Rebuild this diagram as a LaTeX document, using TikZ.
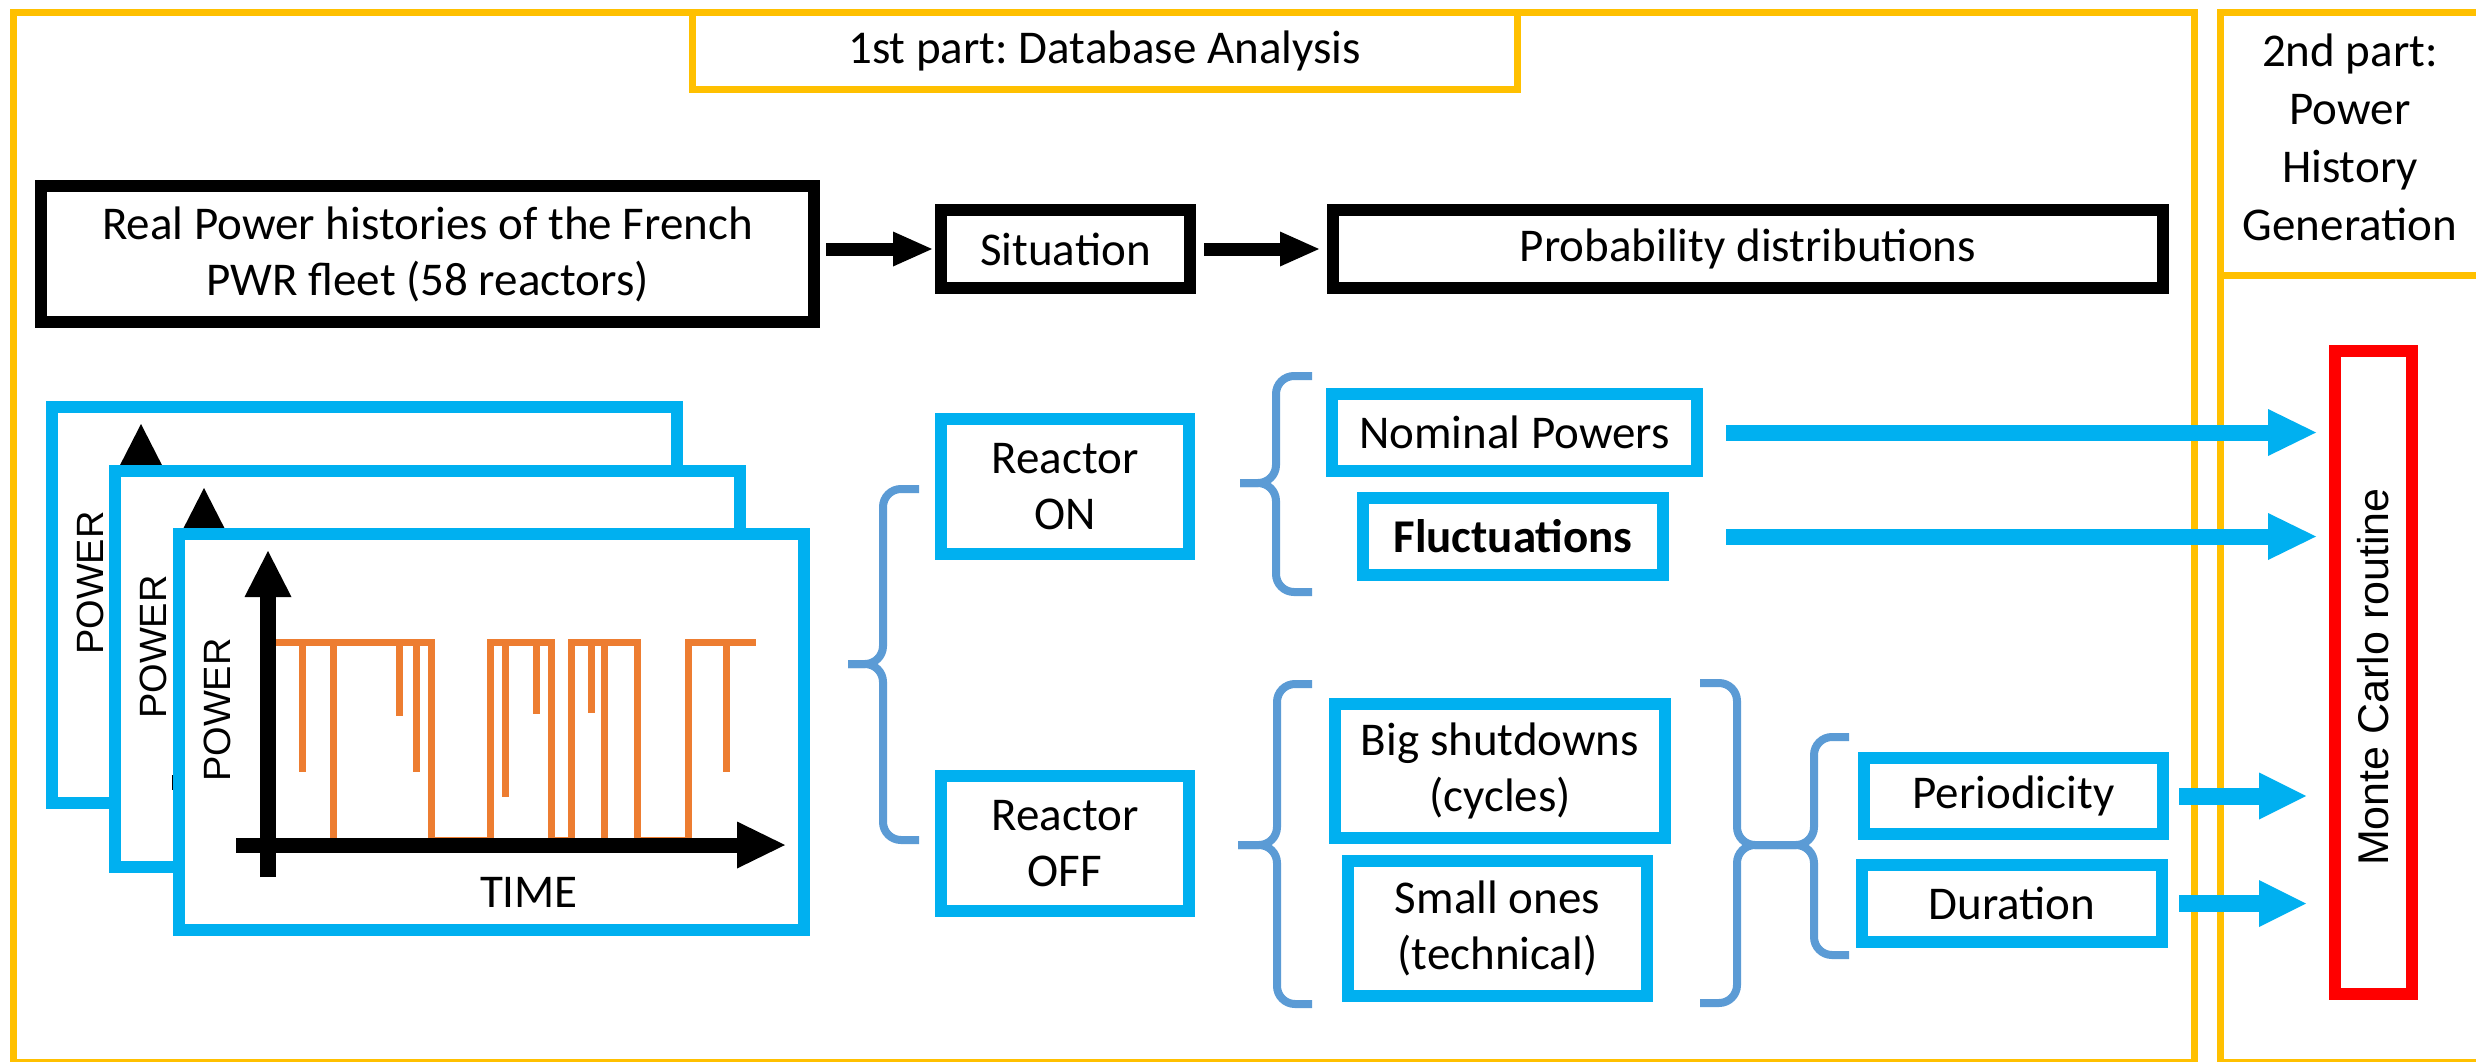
\documentclass[tikz,border=0pt]{standalone}
\usepackage{fontspec}
\setmainfont{Carlito}
\newfontfamily\arialf{Liberation Sans}
\frenchspacing
\usetikzlibrary{arrows.meta,calc}
\definecolor{orng}{HTML}{FFC000}
\definecolor{cyanb}{HTML}{00B0F0}
\definecolor{braceb}{HTML}{5B9BD5}
\definecolor{sigc}{HTML}{ED7D31}
\definecolor{redb}{HTML}{FF0000}
\tikzset{
  txt/.style={font=\fontsize{47}{56}\selectfont, align=center},
  blackbox/.style={draw=black, line width=12pt, fill=white, inner sep=0pt, outer sep=0pt, txt},
  bluebox/.style={draw=cyanb, line width=12pt, fill=white, inner sep=0pt, outer sep=0pt, txt},
  orangebox/.style={draw=orng, line width=7pt, inner sep=0pt, outer sep=0pt},
  bracep/.style={draw=braceb, line width=8pt, rounded corners=18pt},
  blkarrow/.style={draw=black, line width=13pt, -{Triangle[width=35pt,length=39pt,line width=0pt]}},
  cyanarrow/.style={draw=cyanb, line width=16pt, -{Triangle[width=47pt,length=48pt,line width=0pt]}},
  cyanarrowb/.style={draw=cyanb, line width=17pt, -{Triangle[width=47pt,length=47pt,line width=0pt]}},
  sigline/.style={draw=sigc, line width=7pt},
}
\newcommand\powerplot[3]{%
  \begin{scope}[shift={(#1,#2)}]
    \node[draw=cyanb, line width=12pt, fill=white, minimum width=625pt, minimum height=396pt, inner sep=0pt, outer sep=0pt] (#3) at (318.5,204) {};
    \draw[sigline] (103,114) -- (258,114) -- (258,312) -- (317,312) -- (317,114) -- (378,114) -- (378,312) -- (398,312) -- (398,114) -- (464,114) -- (464,312) -- (515,312) -- (515,114) -- (583,114);
    \draw[sigline] (129,114) -- (129,244) (226,114) -- (226,188) (243,114) -- (243,244)
      (332,114) -- (332,269) (363,114) -- (363,186) (418,114) -- (418,185) (553,114) -- (553,244)
      (160,114) -- (160,312) (431,114) -- (431,312);
    \draw[line width=16pt, -{Triangle[width=47pt,length=46pt,line width=0pt]}] (95,349) -- (95,23);
    \draw[line width=15pt, -{Triangle[width=47pt,length=48pt,line width=0pt]}] (63,317) -- (612,317);
    \node[font=\arialf\fontsize{38}{44}\selectfont, rotate=90] (#3p) at (44,182) {POWER};
    \node[txt] (#3t) at (356,364) {TIME};
  \end{scope}}
\begin{document}
\begin{tikzpicture}[x=1pt,y=-1pt]
\useasboundingbox (0,0) rectangle (2476,1061);
\clip (0,0) rectangle (2476,1061);
\fill[white] (0,0) rectangle (2476,1061);

% orange frames
\node[orangebox, minimum width=2181pt, minimum height=1050pt] (part1) at (1103.5,537) {};
\node[orangebox, txt, minimum width=825pt, minimum height=77pt] (title) at (1104.5,50.5) {1st part: Database Analysis};
\node[orangebox, minimum width=260pt, minimum height=1050pt] (part2) at (2350,537) {};
\node[orangebox, minimum width=260pt, minimum height=263.5pt] (p2head) at (2350,143.75) {};
\node[align=center, font=\fontsize{47}{58}\selectfont] (p2text) at (2350,137) {2nd part:\\Power\\History\\Generation};

% top row
\node[blackbox, minimum width=773pt, minimum height=136pt] (real) at (427.5,254) {Real Power histories of the French\\PWR fleet (58 reactors)};
\node[blackbox, minimum width=249pt, minimum height=78pt] (sit) at (1065.5,249) {Situation};
\node[blackbox, minimum width=830pt, minimum height=78pt] (prob) at (1748,249) {Probability distributions};
\draw[blkarrow, shorten <=12pt, shorten >=9pt] (real.east |- sit.west) -- (sit.west);
\draw[blkarrow, shorten <=14pt, shorten >=14pt] (sit.east) -- (prob.west);

% stacked plots
\powerplot{46}{401}{fa}
\powerplot{109}{465}{fb}
\powerplot{173}{528}{fc}

% middle boxes
\node[bluebox, minimum width=248pt, minimum height=135pt] (on) at (1065,486.5) {Reactor\\ON};
\node[bluebox, minimum width=248pt, minimum height=135pt] (off) at (1065,843.5) {Reactor\\OFF};
\node[bluebox, minimum width=365pt, minimum height=77pt] (nom) at (1514.5,432.5) {Nominal Powers};
\node[bluebox, minimum width=300pt, minimum height=77pt] (fluc) at (1513,536.5) {\bfseries Fluctuations};
\node[bluebox, minimum width=330pt, minimum height=134pt] (big) at (1500,771) {Big shutdowns\\(cycles)};
\node[bluebox, minimum width=299pt, minimum height=135pt] (small) at (1497.5,928.5) {Small ones\\(technical)};
\node[bluebox, minimum width=299pt, minimum height=76pt] (per) at (2013.5,796) {Periodicity};
\node[bluebox, minimum width=300pt, minimum height=77pt] (dur) at (2012,903.5) {Duration};

% Monte Carlo
\node[draw=redb, line width=12pt, fill=white, minimum width=77pt, minimum height=643pt, inner sep=0pt, outer sep=0pt] (mc) at (2373.5,672.5) {};
\node[rotate=90, font=\arialf\fontsize{43}{50}\selectfont] (mctext) at (2373.5,677) {Monte Carlo routine};

% braces
\draw[bracep] (919,489) -- (883,489) -- (883,664) -- (848,664);
\draw[bracep] (848,664) -- (883,664) -- (883,840) -- (919,840);
\draw[bracep] (1312,376) -- (1276,376) -- (1276,483) -- (1240,483);
\draw[bracep] (1240,483) -- (1276,483) -- (1276,592) -- (1312,592);
\draw[bracep] (1312,684) -- (1277,684) -- (1277,845) -- (1238,845);
\draw[bracep] (1238,845) -- (1277,845) -- (1277,1004) -- (1312,1004);
\draw[bracep] (1700,683) -- (1737,683) -- (1737,845) -- (1777,845);
\draw[bracep] (1777,845) -- (1737,845) -- (1737,1003) -- (1700,1003);
\draw[bracep] (1849,737) -- (1814,737) -- (1814,845) -- (1777,845);
\draw[bracep] (1777,845) -- (1814,845) -- (1814,955) -- (1849,955);

% arrows to Monte Carlo
\draw[cyanarrow, shorten <=29pt, shorten >=19pt] (nom.east) -- (nom.east -| mc.west);
\draw[cyanarrow, shorten <=63pt, shorten >=19pt] (fluc.east) -- (fluc.east -| mc.west);
\draw[cyanarrowb, shorten <=16pt, shorten >=29pt] (per.east) -- (per.east -| mc.west);
\draw[cyanarrowb, shorten <=17pt, shorten >=29pt] (dur.east) -- (dur.east -| mc.west);
\end{tikzpicture}
\end{document}
